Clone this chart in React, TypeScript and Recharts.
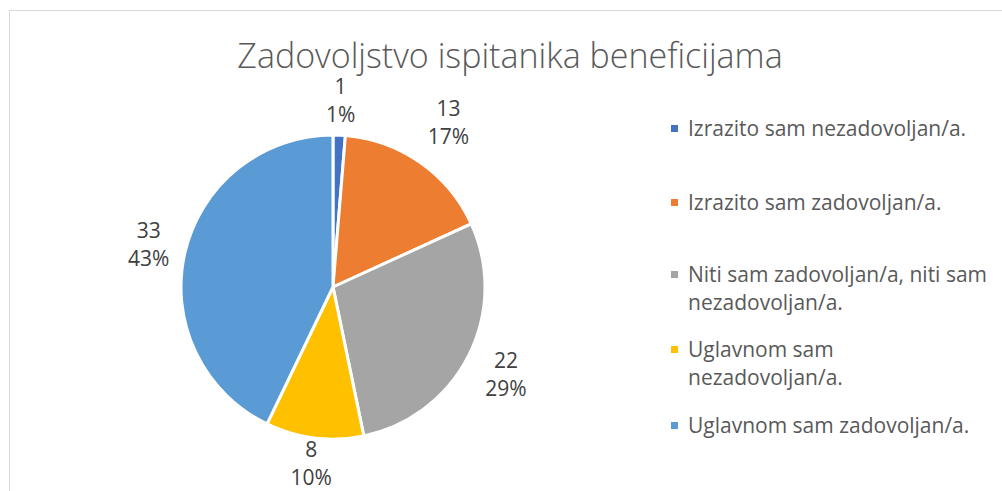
import { PieChart, Pie, Cell, Legend } from 'recharts';

const categories = [
  'Izrazito sam nezadovoljan/a.',
  'Izrazito sam zadovoljan/a.',
  'Niti sam zadovoljan/a, niti sam nezadovoljan/a.',
  'Uglavnom sam nezadovoljan/a.',
  'Uglavnom sam zadovoljan/a.',
];
const counts = [1, 13, 22, 8, 33];
const colors = ['#4472C4', '#ED7D31', '#A5A5A5', '#FFC000', '#5B9BD5'];
const title = 'Zadovoljstvo ispitanika beneficijama';

const data = categories.map((name, i) => ({ name, value: counts[i] }));

const RAD = Math.PI / 180;
const FONT = '"Open Sans", sans-serif';
// how far each data label sits outside the slice edge (Excel "best fit")
const labelGap = [35, 49, 42, 26, 37];

const renderLabel = (props: any) => {
  const { cx, cy, midAngle, outerRadius, value, percent, index } = props;
  const r = outerRadius + labelGap[index];
  const x = cx + r * Math.cos(-midAngle * RAD);
  const y = cy + r * Math.sin(-midAngle * RAD);
  return (
    <text x={x} y={y} textAnchor="middle" fill="#404040" fontSize={21} fontFamily={FONT}>
      <tspan x={x} dy={-6.5}>{value}</tspan>
      <tspan x={x} dy={28}>{`${Math.round(percent * 100)}%`}</tspan>
    </text>
  );
};

const legendTops = [6, 80, 152, 227, 303];

const renderLegend = () => (
  <div style={{ position: 'relative', width: 340, height: 340, fontFamily: FONT }}>
    {categories.map((name, i) => (
      <div key={name} style={{ position: 'absolute', left: 0, top: legendTops[i], display: 'flex' }}>
        <span
          style={{
            display: 'inline-block',
            width: 7,
            height: 7,
            marginLeft: 16,
            marginTop: 11,
            marginRight: 10,
            background: colors[i],
            flexShrink: 0,
          }}
        />
        <span style={{ width: 302, fontSize: 21, lineHeight: '28px', color: '#595959' }}>{name}</span>
      </div>
    ))}
  </div>
);

export default function App() {
  return (
    <div
      style={{
        position: 'fixed',
        left: 0,
        top: 0,
        width: 1002,
        height: 491,
        overflow: 'hidden',
        background: '#fff',
      }}
    >
      <div
        style={{
          position: 'absolute',
          left: 9,
          top: 10,
          width: 2000,
          height: 1000,
          border: '1px solid #D9D9D9',
        }}
      />
      <svg style={{ position: 'absolute', left: 0, top: 0 }} width={1002} height={491}>
        <text x={510} y={68} textAnchor="middle" fill="#595959" fontSize={34} fontWeight={300} fontFamily={FONT}>
          {title}
        </text>
      </svg>
      <div style={{ position: 'absolute', left: 0, top: 0 }}>
        <PieChart width={1002} height={491} margin={{ top: 0, right: 0, bottom: 0, left: 0 }}>
          <Pie
            data={data}
            dataKey="value"
            nameKey="name"
            cx={333}
            cy={287}
            outerRadius={152}
            startAngle={90}
            endAngle={-270}
            stroke="#fff"
            strokeWidth={3}
            label={renderLabel}
            labelLine={false}
            isAnimationActive={false}
          >
            {data.map((d, i) => (
              <Cell key={d.name} fill={colors[i]} />
            ))}
          </Pie>
          <Legend
            layout="vertical"
            align="right"
            verticalAlign="top"
            content={renderLegend}
            wrapperStyle={{ left: 655, top: 108, width: 340 }}
          />
        </PieChart>
      </div>
    </div>
  );
}
